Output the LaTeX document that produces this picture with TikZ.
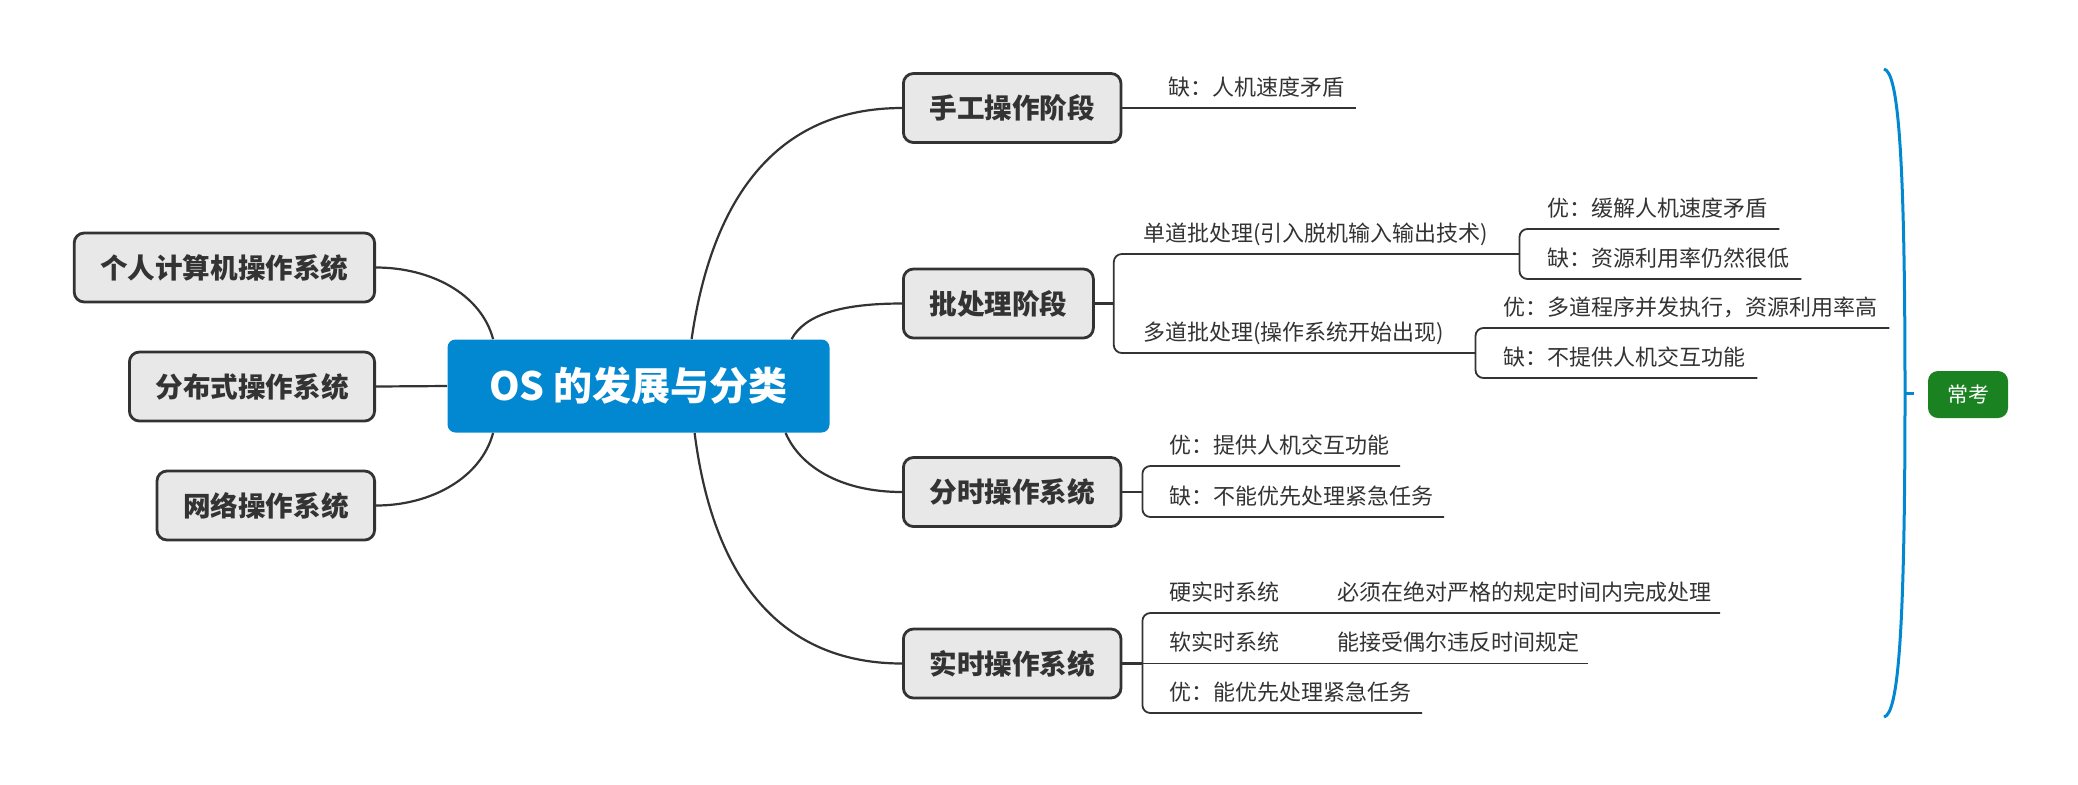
\documentclass[tikz,border=0pt]{standalone}
\usepackage{fontspec}
\newfontfamily\cjk{Noto Sans CJK SC}
\usepackage{xcolor}
\definecolor{ink}{RGB}{51,51,51}
\definecolor{oceanblue}{RGB}{2,136,209}
\definecolor{paper}{RGB}{232,232,232}
\definecolor{leafgreen}{RGB}{26,130,32}
\usepackage{tikz}
\usetikzlibrary{positioning,calc}
\tikzset{
  mainbox/.style={fill=oceanblue, rounded corners=4pt,
    minimum width=191pt, minimum height=46.5pt, text=white,
    font=\cjk\bfseries\fontsize{19.5pt}{22pt}\selectfont,
    text height=16.8pt, text depth=2pt},
  topicbox/.style={draw=ink, line width=1.4pt, fill=paper, rounded corners=5pt,
    minimum height=34.5pt, inner xsep=13pt, text=ink,
    font=\cjk\bfseries\fontsize{13.8pt}{16pt}\selectfont,
    text height=12pt, text depth=1.5pt},
  leaf/.style={anchor=south west, inner xsep=0pt, inner ysep=4.3pt, text=ink,
    font=\cjk\fontsize{11pt}{13pt}\selectfont,
    text height=8.5pt, text depth=2pt},
  link/.style={draw=ink, line width=1.1pt},
  branch/.style={draw=ink, line width=0.9pt, rounded corners=4pt},
  brace/.style={draw=oceanblue, line width=1.5pt},
  examtag/.style={fill=leafgreen, rounded corners=5pt, minimum width=40pt,
    minimum height=23.5pt, text=white,
    font=\cjk\fontsize{10.5pt}{12pt}\selectfont},
}
\begin{document}
\begin{tikzpicture}[x=0.5pt,y=-0.5pt]
\useasboundingbox (0,0) rectangle (2078,784);
% centre topic
\node[mainbox] (root) at (638.5,386) {OS 的发展与分类};
% left branches
\node[topicbox, anchor=east] (pc) at (376,267.5) {个人计算机操作系统};
\node[topicbox, anchor=east] (dist) at (376,386.5) {分布式操作系统};
\node[topicbox, anchor=east] (net) at (376,505.5) {网络操作系统};
% right branches
\node[topicbox, anchor=west] (manual) at (902,108) {手工操作阶段};
\node[topicbox, anchor=west] (batch) at (902,303.5) {批处理阶段};
\node[topicbox, anchor=west] (tshare) at (902,492) {分时操作系统};
\node[topicbox, anchor=west] (rtime) at (902,663.5) {实时操作系统};

\draw[link] (pc.east) .. controls +(55,0) and +(-12,-45) .. ($(root.north west)+(46,0)$);
\draw[link] (dist.east) -- (root.west);
\draw[link] (net.east) .. controls +(55,0) and +(-12,45) .. ($(root.south west)+(46,0)$);
\draw[link] ($(root.north west)+(244.5,0)$) .. controls +(20,-139) and +(-127,0) .. (manual.west);
\draw[link] ($(root.north west)+(344.5,0)$) .. controls +(13,-24) and +(-62,0) .. (batch.west);
\draw[link] ($(root.south west)+(338.5,0)$) .. controls +(14,33) and +(-62,0) .. (tshare.west);
\draw[link] ($(root.south west)+(247.5,0)$) .. controls +(20,158) and +(-112,0) .. (rtime.west);

% manual stage
\node[leaf] (m1) at ($(manual.east)+(46,0)$) {缺：人机速度矛盾};
\draw[branch] (manual.east) -- ($(m1.south east)+(11,0)$);

% batch stage
\coordinate (bk1) at ($(batch.east)+(19,0)$);
\node[leaf] (b1) at ($(bk1)+(29,-49.5)$) {单道批处理(引入脱机输入输出技术)};
\node[leaf] (b2) at ($(bk1)+(29,49.5)$) {多道批处理(操作系统开始出现)};
\draw[link] (batch.east) -- (bk1);
\coordinate (bk2) at ($(b1.south east)+(31,0)$);
\coordinate (bk3) at ($(b2.south east)+(31,0)$);
\draw[branch] (bk2) -- (b1.south west -| bk1) -- (b2.south west -| bk1) -- (bk3);
\node[leaf] (b11) at ($(bk2)+(28,-25)$) {优：缓解人机速度矛盾};
\node[leaf] (b12) at ($(bk2)+(28,25)$) {缺：资源利用率仍然很低};
\draw[branch] ($(b11.south east)+(11,0)$) -- (b11.south west -| bk2) -- (b12.south west -| bk2) -- ($(b12.south east)+(11,0)$);
\node[leaf] (b21) at ($(bk3)+(28,-25)$) {优：多道程序并发执行，资源利用率高};
\node[leaf] (b22) at ($(bk3)+(28,25)$) {缺：不提供人机交互功能};
\draw[branch] ($(b21.south east)+(11,0)$) -- (b21.south west -| bk3) -- (b22.south west -| bk3) -- ($(b22.south east)+(11,0)$);

% time sharing
\coordinate (bk4) at ($(tshare.east)+(20,0)$);
\node[leaf] (t1) at ($(bk4)+(27,-26)$) {优：提供人机交互功能};
\node[leaf] (t2) at ($(bk4)+(27,25)$) {缺：不能优先处理紧急任务};
\draw[link] (tshare.east) -- (bk4);
\draw[branch] ($(t1.south east)+(10,0)$) -- (t1.south west -| bk4) -- (t2.south west -| bk4) -- ($(t2.south east)+(10,0)$);

% real time
\coordinate (bk5) at ($(rtime.east)+(20,0)$);
\node[leaf] (r1) at ($(bk5)+(27,-50.5)$) {硬实时系统};
\node[leaf] (r2) at ($(bk5)+(27,0)$) {软实时系统};
\node[leaf] (r3) at ($(bk5)+(27,49.5)$) {优：能优先处理紧急任务};
\node[leaf] (r11) at ($(r1.south east)+(57,0)$) {必须在绝对严格的规定时间内完成处理};
\node[leaf] (r21) at ($(r2.south east)+(57,0)$) {能接受偶尔违反时间规定};
\draw[link] (rtime.east) -- (bk5);
\draw[branch] ($(r11.south east)+(8,0)$) -- (r1.south west -| bk5) -- (r3.south west -| bk5) -- ($(r3.south east)+(10,0)$);
\draw[branch] (bk5) -- ($(r21.south east)+(8,0)$);

% exam summary
\coordinate (mid) at (1905,393);
\coordinate (tick) at (1914,393);
\draw[brace] (1884,69) .. controls (1898,72) and (1905,150) .. (mid) .. controls (1905,636) and (1898,714) .. (1884,717);
\draw[brace] (mid) -- (tick);
\node[examtag] (exam) at (1968,394.5) {常考};
\end{tikzpicture}
\end{document}
